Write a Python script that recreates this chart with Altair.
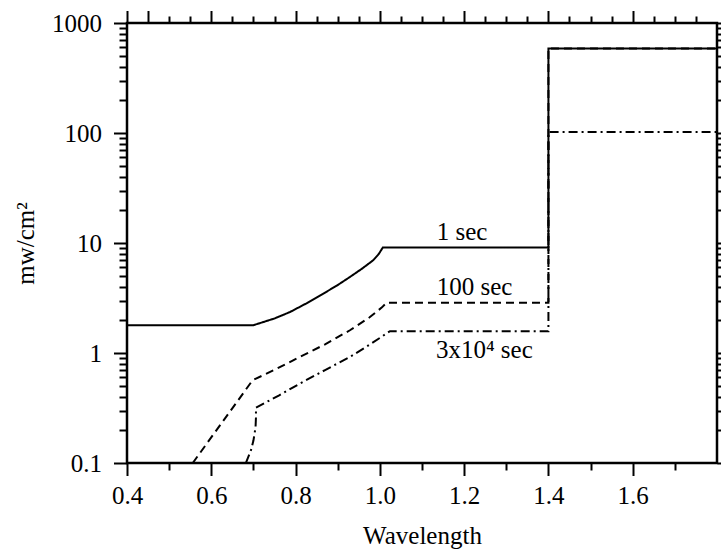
import altair as alt
import pandas as pd

# ---- data ----
sec1_lam = [0.40, 0.70, 0.75, 0.787, 0.826, 0.866, 0.898, 0.929, 0.957, 0.984,
            0.997, 1.007, 1.40, 1.40, 1.80]
sec1_val = [1.79, 1.79, 2.06, 2.36, 2.83, 3.47, 4.10, 4.91, 5.82, 6.96,
            7.9, 9.1, 9.1, 585, 585]

sec100_lam = [0.556, 0.698, 0.755, 0.810, 0.870, 0.929, 0.975, 1.005, 1.016, 1.40, 1.40, 1.80]
sec100_val = [0.10, 0.565, 0.72, 0.92, 1.20, 1.61, 2.10, 2.60, 2.87, 2.87, 585, 585]

sec3e4_lam = [0.682, 0.694, 0.700, 0.705, 0.706, 0.706, 0.760, 0.810, 0.870, 0.929,
              0.980, 1.024, 1.40, 1.40, 1.80]
sec3e4_val = [0.10, 0.13, 0.16, 0.21, 0.26, 0.319, 0.41, 0.527, 0.70, 0.92,
              1.22, 1.58, 1.58, 102, 102]

series_names = ["1 sec", "100 sec", "3x10⁴ sec"]

label_text = ["1 sec", "100 sec", "3x10⁴ sec"]
label_lam = [1.135, 1.135, 1.133]
label_val = [10.6, 3.35, 0.90]

x_major_bottom = [0.4, 0.6, 0.8, 1.0, 1.2, 1.4, 1.6]
x_minor_bottom = [0.5, 0.7, 0.9, 1.1, 1.3, 1.5, 1.7]
x_major_top = [0.4, 0.45, 0.6, 0.8, 1.0, 1.2, 1.4, 1.6]
x_minor_top = [0.5, 0.55, 0.65, 0.7, 0.75, 0.85, 0.9, 0.95, 1.05, 1.1, 1.15,
               1.25, 1.3, 1.35, 1.45, 1.5, 1.55, 1.65, 1.7, 1.75]
y_major = [0.1, 1, 10, 100, 1000]
y_minor = [m * d for d in [0.1, 1, 10, 100] for m in [2, 3, 4, 5, 6, 7, 8, 9]]

rows = []
for name, lams, vals in [(series_names[0], sec1_lam, sec1_val),
                         (series_names[1], sec100_lam, sec100_val),
                         (series_names[2], sec3e4_lam, sec3e4_val)]:
    for i, (l, v) in enumerate(zip(lams, vals)):
        rows.append({"series": name, "lam": l, "val": v, "ord": i})
line_df = pd.DataFrame(rows)
lab_df = pd.DataFrame({"label": label_text, "lam": label_lam, "val": label_val})

FONT = "Liberation Serif"
FS = 25

xs = alt.Scale(domain=[0.4, 1.8], nice=False, zero=False)
ys = alt.Scale(type="log", domain=[0.1, 1000], nice=False)

common = dict(domain=False, grid=False, tickColor="black", tickWidth=2,
              labelFont=FONT, labelFontSize=FS, labelColor="black",
              labelOverlap=False, labelFlush=False)

lines = alt.Chart(line_df).mark_line(color="black", strokeWidth=2, clip=True).encode(
    x=alt.X("lam:Q", scale=xs, axis=alt.Axis(
        orient="bottom", values=x_major_bottom, tickSize=12.5, labelPadding=8,
        format=".1f", title="Wavelength", titleFont=FONT, titleFontSize=FS,
        titleFontWeight="normal", titleColor="black", titleY=80,
        titleBaseline="alphabetic", **common)),
    y=alt.Y("val:Q", scale=ys, axis=alt.Axis(
        orient="left", values=y_major, tickSize=13.5, labelPadding=12,
        format="~g", title="mw/cm²", titleFont=FONT, titleFontSize=FS,
        titleFontWeight="normal", titleColor="black", titleAngle=270,
        titleX=-94, titleY=220, titleAlign="center", titleBaseline="alphabetic",
        **common)),
    strokeDash=alt.StrokeDash("series:N", scale=alt.Scale(
        domain=series_names, range=[[1, 0], [8, 5], [9, 4, 2, 4]]), legend=None),
    order=alt.Order("ord:Q"),
)


def tick_layer(xorient, xvals, xsize, yorient, yvals, ysize):
    return alt.Chart(line_df).mark_line(strokeOpacity=0).encode(
        x=alt.X("lam:Q", scale=xs, axis=alt.Axis(
            orient=xorient, values=xvals, tickSize=xsize, labels=False,
            title=None, **common)),
        y=alt.Y("val:Q", scale=ys, axis=alt.Axis(
            orient=yorient, values=yvals, tickSize=ysize, labels=False,
            title=None, **common)),
        order=alt.Order("ord:Q"),
        detail="series:N",
    )


minor_bl = tick_layer("bottom", x_minor_bottom, 7, "left", y_minor, 8)
major_tr = tick_layer("top", x_major_top, 12.5, "right", y_major, 13)
minor_tr = tick_layer("top", x_minor_top, 7, "right", y_minor, 8)

texts = alt.Chart(lab_df).mark_text(
    align="left", baseline="alphabetic", font=FONT, fontSize=FS, color="black"
).encode(
    x=alt.X("lam:Q", scale=xs, axis=None),
    y=alt.Y("val:Q", scale=ys, axis=None),
    text="label:N",
)

chart = alt.layer(lines, minor_bl, major_tr, minor_tr, texts).resolve_axis(
    x="independent", y="independent"
).properties(
    width=590, height=440,
    autosize=alt.AutoSizeParams(type="none"),
    padding={"left": 127, "top": 23, "right": 4, "bottom": 91},
    background="white",
).configure_view(stroke="black", strokeWidth=2.5)

chart.save("out.html", embed_options={"renderer": "svg", "actions": False})
